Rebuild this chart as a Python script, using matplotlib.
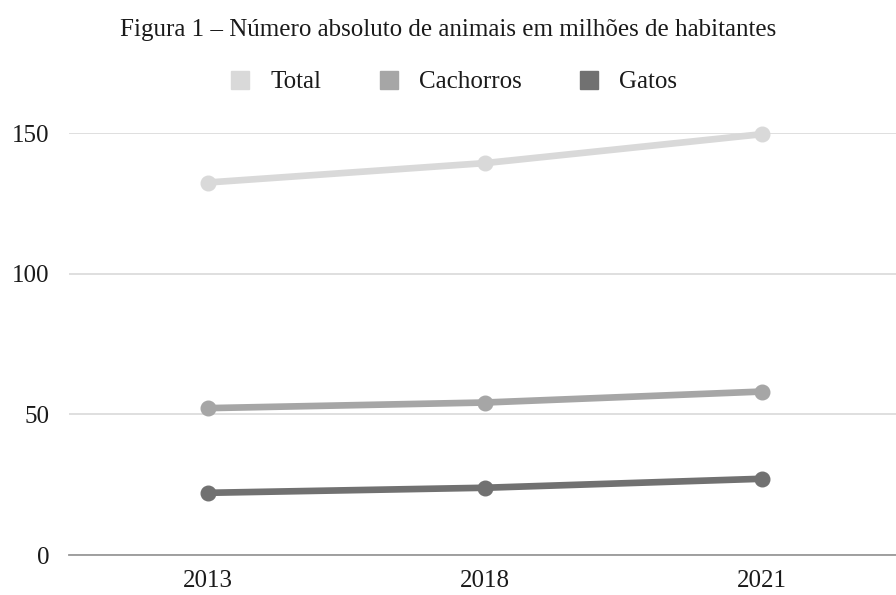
import matplotlib
matplotlib.use("Agg")
import matplotlib.pyplot as plt
from matplotlib.lines import Line2D

# Dados (milhões)
anos = ['2013', '2018', '2021']
total = [132.4, 139.3, 149.6]
cachorros = [52.2, 54.2, 58.1]
gatos = [22.1, 23.9, 27.1]
nomes = ['Total', 'Cachorros', 'Gatos']
cores = ['#d9d9d9', '#a6a6a6', '#717171']

plt.rcParams['font.family'] = ['Liberation Serif', 'DejaVu Serif']

fig = plt.figure(figsize=(8.96, 5.95), dpi=100)
ax = fig.add_axes([69/896, 40/595, 832/896, 422/595])

x = range(len(anos))
for serie, nome, cor in zip([total, cachorros, gatos], nomes, cores):
    ax.plot(x, serie, color=cor, lw=4.8, marker='o', ms=10.5,
            solid_capstyle='round', clip_on=False, zorder=3, label=nome)

ax.set_xlim(-0.5, 2.5)
ax.set_ylim(0, 150)
ax.set_yticks([0, 50, 100, 150])
ax.set_xticks(list(x))
ax.set_xticklabels(anos)
ax.yaxis.grid(True, color='#dcdcdc', lw=1.3)
ax.set_axisbelow(True)
for s in ['top', 'right', 'left']:
    ax.spines[s].set_visible(False)
ax.spines['bottom'].set_color('#999999')
ax.spines['bottom'].set_linewidth(1.3)
ax.tick_params(length=0, labelsize=18, colors='#1a1a1a')
ax.tick_params(axis='y', pad=14)
ax.tick_params(axis='x', pad=11)

fig.text(0.5, 1 - 30/595, 'Figura 1 \u2013 Número absoluto de animais em milhões de habitantes',
         ha='center', va='center', fontsize=18, color='#1a1a1a')

handles = [Line2D([], [], ls='', marker='s', ms=13, color=c) for c in cores]
fig.legend(handles, nomes, loc='center', bbox_to_anchor=(0.505, 1 - 82/595),
           ncol=3, frameon=False, fontsize=18, handlelength=1.0,
           handletextpad=0.7, columnspacing=2.2, labelcolor='#1a1a1a')

fig.savefig('out.png', dpi=100)
